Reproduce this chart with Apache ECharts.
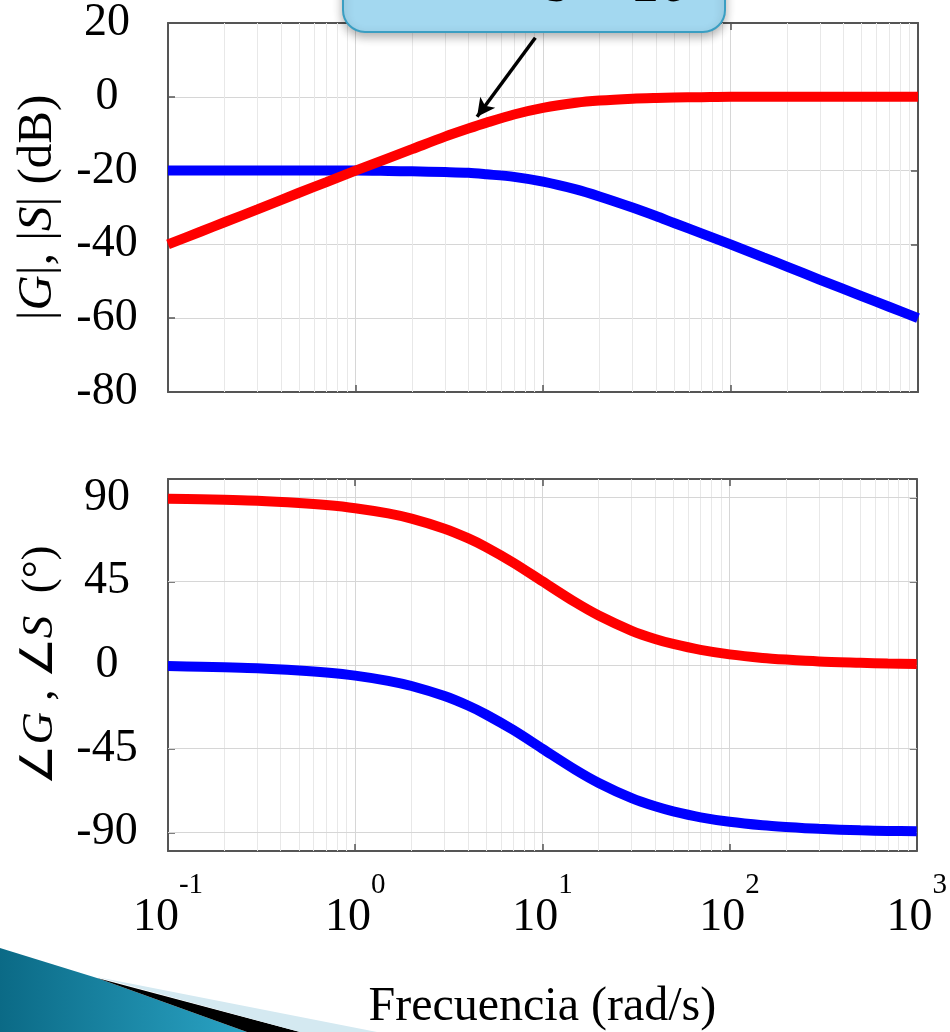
<!DOCTYPE html>
<html>
<head>
<meta charset="utf-8">
<script src="https://cdn.jsdelivr.net/npm/echarts@6/dist/echarts.min.js"></script>
<style>
  html, body { margin: 0; padding: 0; background: #fff; }
  #chart { width: 950px; height: 1032px; }
</style>
</head>
<body>
<div id="chart"></div>
<script>
// frecuencias (rad/s)
const freq = [0.1, 0.15, 0.2, 0.3, 0.5, 0.7, 1, 1.5, 2, 3, 4, 5, 7, 10, 15, 20, 30, 40, 50, 70, 100, 150, 200, 300, 500, 700, 1000];
// |G| y |S| en dB
const magG = [-20.0, -20.0, -20.0, -20.0, -20.0, -20.0, -20.0, -20.1, -20.2, -20.4, -20.6, -21.0, -21.7, -23.0, -25.1, -27.0, -30.0, -32.3, -34.2, -37.0, -40.0, -43.5, -46.0, -49.6, -54.0, -56.9, -60.0];
const magS = [-40.0, -36.5, -34.0, -30.5, -26.0, -23.1, -20.0, -16.6, -14.2, -10.8, -8.6, -7.0, -4.8, -3.0, -1.6, -1.0, -0.5, -0.3, -0.2, -0.1, 0.0, 0.0, 0.0, 0.0, 0.0, 0.0, 0.0];
// fase de G y S en grados
const phaseG = [-0.6, -0.9, -1.2, -1.7, -2.9, -4.0, -5.7, -8.5, -11.3, -16.7, -21.8, -26.6, -35.0, -45.0, -56.3, -63.4, -71.6, -76.0, -78.7, -81.9, -84.3, -86.2, -87.1, -88.1, -88.9, -89.2, -89.4];
const phaseS = [89.4, 89.1, 88.8, 88.3, 87.1, 86.0, 84.3, 81.5, 78.7, 73.3, 68.2, 63.4, 55.0, 45.0, 33.7, 26.6, 18.4, 14.0, 11.3, 8.1, 5.7, 3.8, 2.9, 1.9, 1.2, 0.8, 0.6];

const magTicks = [-80, -60, -40, -20, 0, 20];
const phaseTicks = [-90, -45, 0, 45, 90];
const minorFreqs = [0.2, 0.3, 0.4, 0.5, 0.6, 0.7, 0.8, 0.9,
  2, 3, 4, 5, 6, 7, 8, 9,
  20, 30, 40, 50, 60, 70, 80, 90,
  200, 300, 400, 500, 600, 700, 800, 900];

const serif = 'Liberation Serif';
const boxColor = '#555';
const gridColor = '#d6d6d6';
const minorColor = '#e8e8e8';

function pairs(ys) {
  return freq.map((f, i) => [f, ys[i]]);
}

function xAxisFor(gridIndex, position, showLabel) {
  return {
    type: 'log',
    logBase: 10,
    gridIndex: gridIndex,
    position: position,
    min: 0.1,
    max: 1000,
    axisLine: { show: true, onZero: false, lineStyle: { color: boxColor, width: 2 } },
    axisTick: { show: true, inside: true, length: 7, lineStyle: { color: boxColor, width: 1.5 } },
    splitLine: { show: position === 'bottom', lineStyle: { color: gridColor, width: 1 } },
    axisLabel: {
      show: showLabel,
      margin: 20,
      formatter: function (v) {
        const e = Math.round(Math.log10(v));
        return '{b|10}{e|' + e + '}';
      },
      rich: {
        b: { fontFamily: serif, fontSize: 46, color: '#000', padding: [24, 0, 0, 0], verticalAlign: 'bottom' },
        e: { fontFamily: serif, fontSize: 29, color: '#000', verticalAlign: 'top' }
      }
    }
  };
}

function yAxisFor(gridIndex, position, opts) {
  const ax = {
    type: 'value',
    gridIndex: gridIndex,
    position: position,
    min: opts.min,
    max: opts.max,
    axisLine: { show: true, onZero: false, lineStyle: { color: boxColor, width: 2 } },
    axisTick: { show: true, inside: true, length: 7, lineStyle: { color: boxColor, width: 1.5 } },
    splitLine: { show: false },
    axisLabel: {
      show: position === 'left',
      margin: 61,
      align: 'center',
      fontFamily: serif,
      fontSize: 46,
      color: '#000',
      padding: [20, 0, 0, 0]
    }
  };
  if (opts.interval) {
    ax.interval = opts.interval;
    ax.splitLine = { show: position === 'left', lineStyle: { color: gridColor, width: 1 } };
  }
  if (opts.custom) {
    ax.axisLabel.customValues = opts.custom;
    ax.axisTick.customValues = opts.custom;
  }
  if (position === 'left') {
    ax.name = opts.name;
    ax.nameLocation = 'middle';
    ax.nameGap = 105;
    ax.nameTextStyle = {
      fontFamily: serif,
      fontSize: opts.nameSize,
      color: '#000',
      rich: { i: { fontFamily: serif, fontSize: opts.nameSize, fontStyle: 'italic', color: '#000' } }
    };
  }
  return ax;
}

function gridLines(extra) {
  return {
    silent: true,
    z: 1,
    symbol: ['none', 'none'],
    label: { show: false },
    lineStyle: { color: minorColor, width: 1, type: 'solid' },
    emphasis: { disabled: true },
    data: minorFreqs.map(f => ({ xAxis: f })).concat(extra || [])
  };
}

const chart = echarts.init(document.getElementById('chart'));

chart.setOption({
  animation: false,
  backgroundColor: '#fff',
  grid: [
    { left: 168, right: 32, top: 17, height: 375 },
    { left: 168, right: 32, top: 479, height: 374 }
  ],
  xAxis: [
    xAxisFor(0, 'bottom', false),
    xAxisFor(0, 'top', false),
    Object.assign(xAxisFor(1, 'bottom', true), {
      name: 'Frecuencia (rad/s)',
      nameLocation: 'middle',
      nameGap: 132,
      nameTextStyle: { fontFamily: serif, fontSize: 48, color: '#000', verticalAlign: 'top' }
    }),
    xAxisFor(1, 'top', false)
  ],
  yAxis: [
    yAxisFor(0, 'left', { min: -80, max: 20, interval: 20, nameSize: 49, name: '|{i|G}|, |{i|S}| (dB)' }),
    yAxisFor(0, 'right', { min: -80, max: 20, interval: 20 }),
    yAxisFor(1, 'left', { min: -100, max: 100, custom: phaseTicks, nameSize: 45, name: '∠{i|G} , ∠{i|S}  (°)' }),
    yAxisFor(1, 'right', { min: -100, max: 100, custom: phaseTicks })
  ],
  series: [
    {
      name: '|G|', type: 'line', xAxisIndex: 0, yAxisIndex: 0,
      data: pairs(magG), showSymbol: false, smooth: 0.3,
      lineStyle: { color: '#0000ff', width: 10 },
      markLine: gridLines()
    },
    {
      name: '|S|', type: 'line', xAxisIndex: 0, yAxisIndex: 0,
      data: pairs(magS), showSymbol: false, smooth: 0.3,
      lineStyle: { color: '#ff0000', width: 10 },
      markLine: {
        silent: true,
        z: 10,
        symbol: ['none', 'arrow'],
        symbolSize: [14, 18],
        label: { show: false },
        lineStyle: { color: '#000', width: 3.5, type: 'solid' },
        data: [[{ coord: [9.1, 16] }, { coord: [4.45, -5.4] }]]
      }
    },
    {
      name: '∠G', type: 'line', xAxisIndex: 2, yAxisIndex: 2,
      data: pairs(phaseG), showSymbol: false, smooth: 0.3,
      lineStyle: { color: '#0000ff', width: 10 },
      markLine: gridLines(phaseTicks.map(v => ({ yAxis: v, lineStyle: { color: gridColor } })))
    },
    {
      name: '∠S', type: 'line', xAxisIndex: 2, yAxisIndex: 2,
      data: pairs(phaseS), showSymbol: false, smooth: 0.3,
      lineStyle: { color: '#ff0000', width: 10 }
    }
  ],
  graphic: [
    {
      type: 'rect', z: 100,
      shape: { x: 343, y: -40, width: 382, height: 72, r: 22 },
      style: {
        fill: '#a3d8f0', stroke: '#3a9ec2', lineWidth: 2,
        shadowBlur: 10, shadowOffsetY: 4, shadowColor: 'rgba(0,0,0,0.3)'
      }
    },
    {
      type: 'text', z: 101,
      style: { x: 546, y: 15, text: 's + 10', font: '58px "Liberation Serif"', fill: '#000', verticalAlign: 'bottom' }
    },
    {
      type: 'polygon', z: 100,
      shape: { points: [[0, 948], [97, 978], [247, 1032], [0, 1032]] },
      style: {
        fill: {
          type: 'linear', x: 0, y: 0, x2: 1, y2: 0,
          colorStops: [{ offset: 0, color: '#0b6a86' }, { offset: 1, color: '#2aa3c4' }]
        }
      }
    },
    {
      type: 'polygon', z: 100,
      shape: { points: [[97, 978], [300, 1032], [247, 1032]] },
      style: { fill: '#000' }
    },
    {
      type: 'polygon', z: 100,
      shape: { points: [[97, 977], [377, 1032], [300, 1032]] },
      style: { fill: '#d4e9f1' }
    }
  ]
});
</script>
</body>
</html>
